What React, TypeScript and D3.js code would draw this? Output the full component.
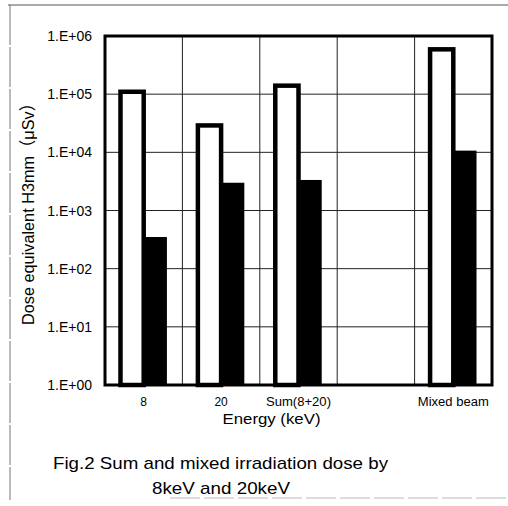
import * as d3 from "d3";

const categories = ["8", "20", "Sum(8+20)", "", "Mixed beam"];
const openValues: (number | null)[] = [1.1e5, 2.9e4, 1.4e5, null, 5.9e5];
const filledValues: (number | null)[] = [350, 3000, 3350, null, 1.07e4];
const yTicks = [1, 10, 100, 1e3, 1e4, 1e5, 1e6];
const yTickLabels = ["1.E+00", "1.E+01", "1.E+02", "1.E+03", "1.E+04", "1.E+05", "1.E+06"];
// measured label widths in the scan (glyphs there are wider than Arial)
const xLabelWidths = [6, 15, 65, 0, 71];

const W = 508;
const H = 506;
const FONT = "'Liberation Sans', Arial, 'Noto Sans CJK JP', sans-serif";

export default function App() {
  const left = 105;
  const right = 492;
  const top = 36;
  const bottom = 385;

  const keys = categories.map((c, i) => c + "#" + i);
  const x = d3.scaleBand<string>().domain(keys).range([left, right]);
  const sub = d3.scaleBand<string>().domain(["open", "filled"]).range([0, x.bandwidth()]).paddingInner(0).paddingOuter(0.667);
  const y = d3.scaleLog().domain([1, 1e6]).range([bottom, top]);

  const bounds = keys.map((k) => x(k)!).concat([right]);

  return (
    <div style={{ position: "absolute", left: 0, top: 0 }}>
      <svg width={W} height={H} style={{ display: "block", background: "#fff" }} fontFamily={FONT}>
        {/* scan frame */}
        <line x1={8} x2={508} y1={5} y2={5} stroke="#555" strokeWidth={1.2} />
        <line x1={10} x2={10} y1={5} y2={500} stroke="#777" strokeWidth={1} strokeDasharray="40 2" />
        <line x1={170} x2={508} y1={498} y2={498} stroke="#bbb" strokeWidth={1} strokeDasharray="30 4" />

        {/* grid */}
        {yTicks.map((t) => (
          <line key={"h" + t} x1={left} x2={right} y1={y(t)} y2={y(t)} stroke="#222" strokeWidth={1} />
        ))}
        {bounds.map((b, i) => (
          <line key={"v" + i} x1={b} x2={b} y1={top} y2={bottom} stroke="#222" strokeWidth={1} />
        ))}

        {/* bars */}
        {keys.map((k, i) => {
          const x0 = x(k)!;
          const ov = openValues[i];
          const fv = filledValues[i];
          return (
            <g key={k}>
              {ov != null && (
                <rect
                  x={x0 + sub("open")!}
                  y={y(ov)}
                  width={sub.bandwidth()}
                  height={bottom - y(ov)}
                  fill="#fff"
                  stroke="#000"
                  strokeWidth={4.5}
                />
              )}
              {fv != null && (
                <rect
                  x={x0 + sub("filled")!}
                  y={y(fv)}
                  width={sub.bandwidth()}
                  height={bottom - y(fv)}
                  fill="#000"
                />
              )}
            </g>
          );
        })}

        {/* plot frame */}
        <rect x={left} y={top} width={right - left} height={bottom - top} fill="none" stroke="#000" strokeWidth={3} />

        {/* y tick labels */}
        {yTicks.map((t, i) => (
          <text key={"yl" + t} x={92} y={y(t)} dy="0.36em" textAnchor="end" fontSize={14} fill="#000">
            {yTickLabels[i]}
          </text>
        ))}

        {/* x labels */}
        {keys.map((k, i) =>
          categories[i] ? (
            <text
              key={"xl" + k}
              x={x(k)! + x.bandwidth() / 2}
              y={406}
              textAnchor="middle"
              fontSize={12}
              fill="#000"
              textLength={xLabelWidths[i] > 20 ? xLabelWidths[i] : undefined}
              lengthAdjust="spacingAndGlyphs"
            >
              {categories[i]}
            </text>
          ) : null
        )}

        <text x={271.5} y={424} textAnchor="middle" fontSize={14} fill="#000" textLength={98} lengthAdjust="spacingAndGlyphs">
          Energy (keV)
        </text>

        <text
          transform="translate(34,210) rotate(-90)"
          textAnchor="middle"
          fontSize={17}
          fill="#000"
          textLength={230}
          lengthAdjust="spacingAndGlyphs"
        >
          Dose equivalent H3mm（μSv）
        </text>

        <text x={53} y={469} fontSize={17} fill="#000" textLength={335} lengthAdjust="spacingAndGlyphs">
          Fig.2 Sum and mixed irradiation dose by
        </text>
        <text x={152} y={494} fontSize={17} fill="#000" textLength={138} lengthAdjust="spacingAndGlyphs">
          8keV and 20keV
        </text>
      </svg>
    </div>
  );
}
